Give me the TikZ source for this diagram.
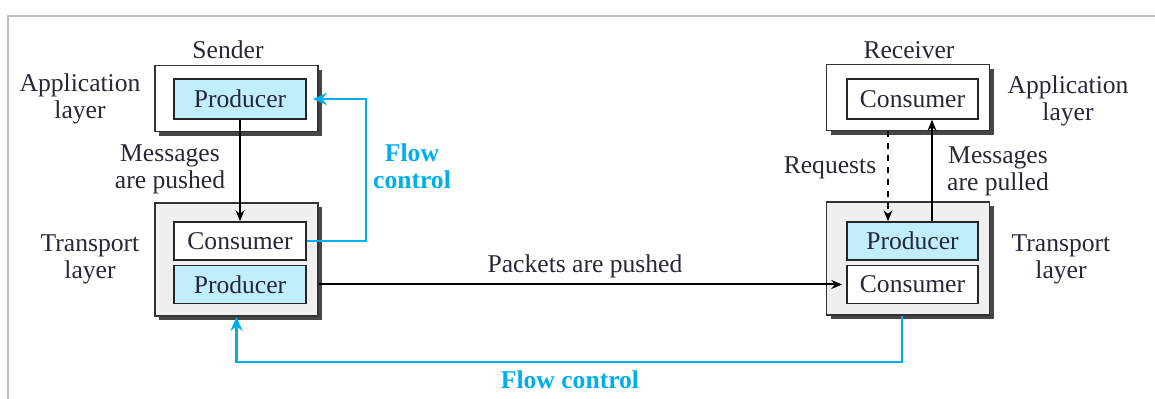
\documentclass[tikz,border=0pt]{standalone}
\usepackage{fontspec}
\setmainfont{Liberation Serif}
\usetikzlibrary{arrows.meta, positioning, shadows}
\definecolor{FlowBlue}{RGB}{0, 174, 239}
\definecolor{ProdCyan}{RGB}{192, 238, 252}
\definecolor{LayerGrey}{RGB}{240, 240, 243}
\definecolor{InkDark}{RGB}{38, 40, 58}
\definecolor{FrameGrey}{RGB}{190, 190, 190}
\begin{document}
\begin{tikzpicture}[x=0.5pt, y=-0.5pt, font=\rmfamily\fontsize{12.8}{13.5}\selectfont, text=InkDark,
  outer/.style={draw=black!80, line width=0.9pt, minimum width=81.5pt, general shadow={fill=black!72, shadow xshift=2.2pt, shadow yshift=-2.2pt}},
  appbox/.style={outer, fill=white, minimum height=33pt}, tpbox/.style={outer, fill=LayerGrey, minimum height=56.5pt},
  inner/.style={draw=black!85, line width=0.8pt, minimum width=66pt, minimum height=19pt, inner sep=0pt}, prod/.style={inner, fill=ProdCyan}, cons/.style={inner, fill=white},
  lbl/.style={align=center, inner sep=1pt}, flbl/.style={lbl, text=FlowBlue, font=\rmfamily\fontsize{12.8}{13.5}\selectfont\bfseries},
  ar/.style={-{Stealth[length=5.5pt, width=4.5pt]}, line width=0.6pt}, fc/.style={-{Stealth[length=7pt, width=6pt]}, FlowBlue, line width=1.2pt}]
\useasboundingbox (0,0) rectangle (1155,399);
\draw[FrameGrey, line width=0.6pt] (8,399) -- (8,16) -- (1155,16);
\node[appbox] (sapp) at (236.5,98.5) {};
\node[prod, minimum height=20pt] (sprod) at (240,99) {Producer};
\node[tpbox] (stp) at (236.5,259.5) {};
\node[cons] (scons) at (240,241) {Consumer};
\node[prod] (stprod) at (240,284.5) {Producer};
\node[appbox] (rapp) at (908,97.5) {};
\node[cons, minimum height=20pt, minimum width=65.5pt] (rcons) at (912.5,99) {Consumer};
\node[tpbox] (rtp) at (908,258.5) {};
\node[prod, minimum width=65.5pt] (rprod) at (912.5,241) {Producer};
\node[cons, minimum width=65.5pt] (rtcons) at (912.5,284.5) {Consumer};
\node[lbl] (sender) at (228,50) {Sender};
\node[lbl] (receiver) at (909,50) {Receiver};
\node[lbl] (sappl) at (80,99) {Application\\layer};
\node[lbl] (stpl) at (90,259) {Transport\\layer};
\node[lbl] (rappl) at (1068,101) {Application\\layer};
\node[lbl] (rtpl) at (1061,259) {Transport\\layer};
\node[lbl] (push) at (170,169) {Messages\\are pushed};
\node[lbl] (pull) at (998,171) {Messages\\are pulled};
\node[lbl] (req) at (830,168) {Requests};
\node[lbl] (pkts) at (585,266) {Packets are pushed};
\node[flbl] (fc1) at (412,166) {Flow\\control};
\node[flbl] (fc2) at (570,380) {Flow control};
\draw[ar] (sprod) -- (scons);
\draw[fc] (scons.east) -- ++(59,0) |- ([xshift=3pt]sprod.east);
\draw[ar, line width=1pt] (stp.east |- stprod) -- ([xshift=-2pt]rtcons.west);
\draw[fc] ([xshift=-3pt]rtp.south) -- ++(0,46) -| (stp.south);
\draw[ar, dashed] ([xshift=-10pt]rapp.south) -- ([xshift=-10pt]rapp.south |- rprod.north);
\draw[ar] ([xshift=9.75pt]rprod.north) -- ([xshift=9.75pt]rprod.north |- rcons.south);
\end{tikzpicture}
\end{document}
